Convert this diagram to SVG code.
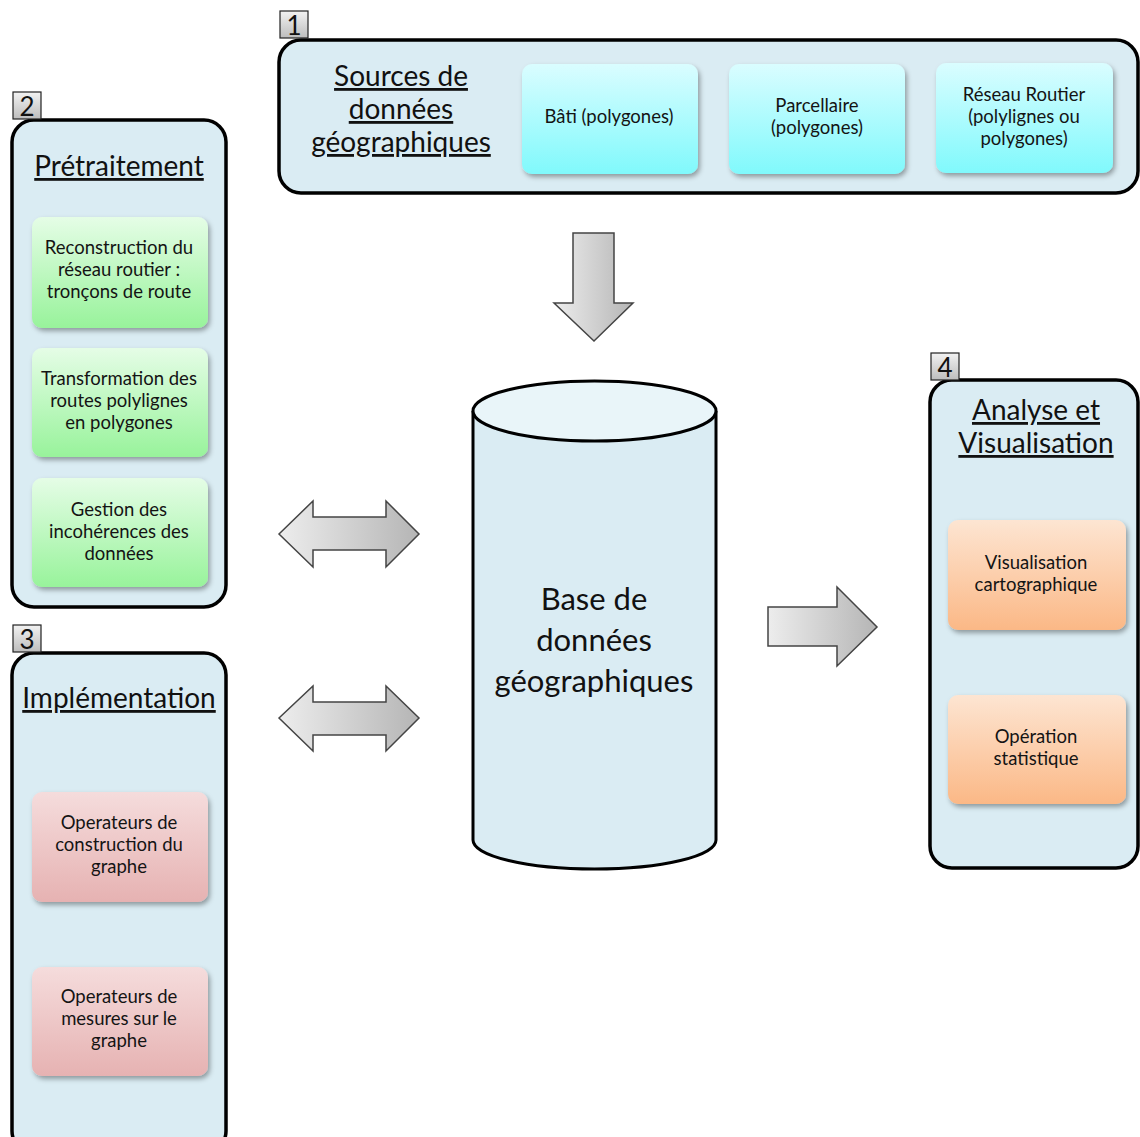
<svg xmlns="http://www.w3.org/2000/svg" width="1140" height="1137" viewBox="0 0 1140 1137">
<style>
.panel{fill:#daecf3;stroke:#000;stroke-width:3.5}
.tag{fill:url(#gTag);stroke:#222;stroke-width:1.2}
.tagt{font-family:Lato,"Liberation Sans",sans-serif;font-size:26px;fill:#111;text-anchor:middle}
.title{font-family:Lato,"Liberation Sans",sans-serif;font-size:28px;fill:#111;text-anchor:middle;text-decoration:underline}
.bt{font-family:Lato,"Liberation Sans",sans-serif;font-size:18.5px;fill:#141414;text-anchor:middle}
.big{font-family:Lato,"Liberation Sans",sans-serif;font-size:31px;fill:#111;text-anchor:middle}
.cyan{fill:url(#gCyan)}
.green{fill:url(#gGreen)}
.pink{fill:url(#gPink)}
.orange{fill:url(#gOrange)}
.arrow{fill:url(#gArrow);stroke:#444;stroke-width:1.5;stroke-linejoin:miter}
</style>
<defs>
<linearGradient id="gTag" x1="0" y1="0" x2="0" y2="1"><stop offset="0" stop-color="#f2f2f2"/><stop offset="1" stop-color="#bdbdbd"/></linearGradient>
<linearGradient id="gCyan" x1="0" y1="0" x2="0" y2="1"><stop offset="0" stop-color="#dafdff"/><stop offset="1" stop-color="#80f9fc"/></linearGradient>
<linearGradient id="gGreen" x1="0" y1="0" x2="0" y2="1"><stop offset="0" stop-color="#e5fde6"/><stop offset="1" stop-color="#98f39b"/></linearGradient>
<linearGradient id="gPink" x1="0" y1="0" x2="0" y2="1"><stop offset="0" stop-color="#f5dcdc"/><stop offset="1" stop-color="#e6b2b2"/></linearGradient>
<linearGradient id="gOrange" x1="0" y1="0" x2="0" y2="1"><stop offset="0" stop-color="#fde5d2"/><stop offset="1" stop-color="#fbb886"/></linearGradient>
<linearGradient id="gArrow" x1="0" y1="0" x2="1" y2="0"><stop offset="0" stop-color="#ededed"/><stop offset="1" stop-color="#b5b5b5"/></linearGradient>
<filter id="sh" x="-10%" y="-10%" width="125%" height="130%"><feDropShadow dx="2" dy="3" stdDeviation="2.5" flood-color="#000" flood-opacity="0.35"/></filter>
</defs>
<rect width="1140" height="1137" fill="#fff"/>

<g id="panel1">
<rect class="panel" x="279" y="40" width="859" height="153" rx="22"/>
<rect class="tag" x="280" y="11" width="28" height="27"/>
<text class="tagt" x="294" y="35">1</text>
<text class="title" x="401" y="86">Sources de</text>
<text class="title" x="401" y="119">données</text>
<text class="title" x="401" y="152">géographiques</text>
</g>
<g id="bati"><rect class="cyan" filter="url(#sh)" x="522" y="64" width="176" height="110" rx="10"/><text class="bt" x="609" y="123">Bâti (polygones)</text></g>
<g id="parcellaire"><rect class="cyan" filter="url(#sh)" x="729" y="64" width="176" height="110" rx="10"/><text class="bt" x="817" y="112">Parcellaire</text><text class="bt" x="817" y="134">(polygones)</text></g>
<g id="reseau"><rect class="cyan" filter="url(#sh)" x="936" y="63" width="177" height="110" rx="10"/><text class="bt" x="1024" y="101">Réseau Routier</text><text class="bt" x="1024" y="123">(polylignes ou</text><text class="bt" x="1024" y="145">polygones)</text></g>

<g id="panel2">
<rect class="panel" x="12" y="120" width="214" height="487" rx="22"/>
<rect class="tag" x="13" y="92" width="28" height="27"/>
<text class="tagt" x="27" y="116">2</text>
<text class="title" x="119" y="176">Prétraitement</text>
</g>
<g id="reconstruction"><rect class="green" filter="url(#sh)" x="32" y="217" width="176" height="111" rx="10"/><text class="bt" x="119" y="254">Reconstruction du</text><text class="bt" x="119" y="276">réseau routier :</text><text class="bt" x="119" y="298">tronçons de route</text></g>
<g id="transformation"><rect class="green" filter="url(#sh)" x="32" y="348" width="176" height="109" rx="10"/><text class="bt" x="119" y="385">Transformation des</text><text class="bt" x="119" y="407">routes polylignes</text><text class="bt" x="119" y="429">en polygones</text></g>
<g id="gestion"><rect class="green" filter="url(#sh)" x="32" y="478" width="176" height="109" rx="10"/><text class="bt" x="119" y="516">Gestion des</text><text class="bt" x="119" y="538">incohérences des</text><text class="bt" x="119" y="560">données</text></g>

<g id="panel3">
<rect class="panel" x="12" y="653" width="214" height="500" rx="22"/>
<rect class="tag" x="13" y="625" width="28" height="27"/>
<text class="tagt" x="27" y="649">3</text>
<text class="title" x="119" y="708">Implémentation</text>
</g>
<g id="op-construction"><rect class="pink" filter="url(#sh)" x="32" y="792" width="176" height="110" rx="10"/><text class="bt" x="119" y="829">Operateurs de</text><text class="bt" x="119" y="851">construction du</text><text class="bt" x="119" y="873">graphe</text></g>
<g id="op-mesures"><rect class="pink" filter="url(#sh)" x="32" y="967" width="176" height="109" rx="10"/><text class="bt" x="119" y="1003">Operateurs de</text><text class="bt" x="119" y="1025">mesures sur le</text><text class="bt" x="119" y="1047">graphe</text></g>

<g id="panel4">
<rect class="panel" x="930" y="380" width="208" height="488" rx="22"/>
<rect class="tag" x="931" y="353" width="28" height="27"/>
<text class="tagt" x="945" y="377">4</text>
<text class="title" x="1036" y="420">Analyse et</text>
<text class="title" x="1036" y="453">Visualisation</text>
</g>
<g id="visu"><rect class="orange" filter="url(#sh)" x="948" y="520" width="178" height="110" rx="10"/><text class="bt" x="1036" y="569">Visualisation</text><text class="bt" x="1036" y="591">cartographique</text></g>
<g id="stat"><rect class="orange" filter="url(#sh)" x="948" y="695" width="178" height="109" rx="10"/><text class="bt" x="1036" y="743">Opération</text><text class="bt" x="1036" y="765">statistique</text></g>

<g id="database">
<path d="M473,411 L473,840 A121.5,29 0 0 0 716,840 L716,411" fill="#daecf3" stroke="#000" stroke-width="3"/>
<ellipse cx="594.5" cy="411" rx="121.5" ry="30" fill="#e9f5f9" stroke="#000" stroke-width="3"/>
<text class="big" x="594" y="610">Base de</text>
<text class="big" x="594" y="651">données</text>
<text class="big" x="594" y="692">géographiques</text>
</g>

<g id="connectors">
<path class="arrow" d="M573,233 L614,233 L614,303 L633,303 L594,341 L554,303 L573,303 Z"/>
<path class="arrow" d="M279,534 L313,501 L313,517 L386,517 L386,501 L419,534 L386,567 L386,550 L313,550 L313,567 Z"/>
<path class="arrow" d="M279,718 L313,686 L313,702 L386,702 L386,686 L419,718 L386,751 L386,735 L313,735 L313,751 Z"/>
<path class="arrow" d="M768,607 L837,607 L837,587 L877,627 L837,666 L837,646 L768,646 Z"/>
</g>
</svg>
